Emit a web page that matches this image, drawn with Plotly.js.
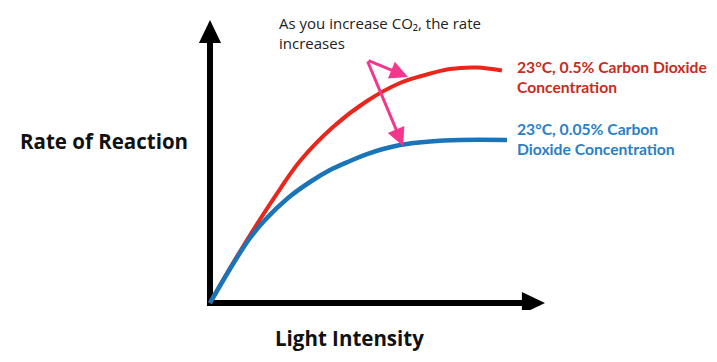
<!DOCTYPE html>
<html>
<head>
<meta charset="utf-8">
<script src="https://cdn.plot.ly/plotly-3.0.1.min.js"></script>
<style>html,body{margin:0;padding:0;background:#fff}</style>
</head>
<body>
<div id="chart" style="width:717px;height:362px"></div>
<script>
// Light intensity (arbitrary units) and rate of reaction (arbitrary units)
var lightHigh = [0, 6.87, 14.03, 20.90, 26.87, 36.72, 46.87, 56.72, 64.18, 71.64, 79.70, 87.16];
var rateHigh  = [0, 14.13, 27.92, 40.28, 50.18, 62.19, 71.38, 77.74, 80.57, 82.69, 83.22, 82.16];
var lightLow  = [0, 6.87, 11.94, 16.42, 23.28, 29.85, 35.82, 41.79, 46.87, 56.72, 65.67, 74.63, 88.66];
var rateLow   = [0, 13.78, 22.97, 29.33, 37.10, 42.76, 46.99, 50.18, 52.65, 55.83, 57.07, 57.60, 57.60];
var labelHigh = '23°C, 0.5% Carbon Dioxide<br>Concentration';
var labelLow  = '23°C, 0.05% Carbon<br>Dioxide Concentration';
var xTitle = 'Light Intensity';
var yTitle = 'Rate of Reaction';
var note = 'As you increase CO₂, the rate<br>increases';

var TITLEFONT = '"Open Sans", sans-serif';
var LABELFONT = 'Lato, "Open Sans", sans-serif';
var traces = [
  {x: lightHigh, y: rateHigh, mode: 'lines', line: {color: '#e8261c', width: 4, shape: 'spline'}, hoverinfo: 'skip', name: labelHigh},
  {x: lightLow, y: rateLow, mode: 'lines', line: {color: '#1a74b8', width: 4.5, shape: 'spline'}, hoverinfo: 'skip', name: labelLow}
];

var axStyle = {showgrid: false, zeroline: false, showticklabels: false, ticks: '', showline: false, fixedrange: true};
var layout = {
  width: 717, height: 362,
  margin: {l: 190, r: 167, t: 15, b: 52, pad: 0},
  paper_bgcolor: '#fff', plot_bgcolor: '#fff',
  showlegend: false,
  xaxis: Object.assign({range: [-5.97, 101.49]}, axStyle),
  yaxis: Object.assign({range: [-2.47, 101.77]}, axStyle),
  shapes: [
    {type: 'line', xref: 'x', yref: 'y', x0: 0, y0: -1.1, x1: 0, y1: 92.5, line: {color: '#000', width: 6}, layer: 'below'},
    {type: 'line', xref: 'x', yref: 'y', x0: -0.9, y0: 0, x1: 93.5, y1: 0, line: {color: '#000', width: 6}, layer: 'below'},
    {type: 'path', xref: 'x', yref: 'y', path: 'M -3.3,91.9 L 3.3,91.9 L 0,100 Z', fillcolor: '#000', line: {width: 0}, layer: 'below'},
    {type: 'path', xref: 'x', yref: 'y', path: 'M 93.1,-3.9 L 93.1,3.9 L 100,0 Z', fillcolor: '#000', line: {width: 0}, layer: 'below'}
  ],
  annotations: [
    {xref: 'paper', yref: 'paper', x: -0.2389, y: 0.5729, xanchor: 'center', yanchor: 'middle', text: yTitle, showarrow: false, font: {family: TITLEFONT, size: 20.5, color: '#111', weight: 'bold'}},
    {xref: 'paper', yref: 'paper', x: 0.4444, y: -0.0949, xanchor: 'center', yanchor: 'middle', text: xTitle, showarrow: false, font: {family: TITLEFONT, size: 20.5, color: '#111', weight: 'bold'}},
    {xref: 'paper', yref: 'paper', x: 0.2417, y: 1.0136, xanchor: 'left', yanchor: 'top', align: 'left', text: note, showarrow: false, font: {family: TITLEFONT, size: 15, color: '#222'}},
    {xref: 'paper', yref: 'paper', x: 0.9028, y: 0.8610, xanchor: 'left', yanchor: 'top', align: 'left', text: labelHigh, showarrow: false, font: {family: LABELFONT, size: 15.7, color: '#cc2a1a', weight: 'bold'}},
    {xref: 'paper', yref: 'paper', x: 0.9028, y: 0.6508, xanchor: 'left', yanchor: 'top', align: 'left', text: labelLow, showarrow: false, font: {family: LABELFONT, size: 15.7, color: '#2a80c6', weight: 'bold'}},
    {xref: 'paper', yref: 'paper', x: 0.6056, y: 0.7898, text: '', showarrow: true, axref: 'pixel', ayref: 'pixel', ax: -41, ay: -17, arrowhead: 2, arrowsize: 1.2, arrowwidth: 3, arrowcolor: '#f2378f'},
    {xref: 'paper', yref: 'paper', x: 0.5917, y: 0.5559, text: '', showarrow: true, axref: 'pixel', ayref: 'pixel', ax: -36, ay: -86, arrowhead: 2, arrowsize: 1.2, arrowwidth: 3, arrowcolor: '#f2378f'}
  ]
};
Plotly.newPlot('chart', traces, layout, {staticPlot: true, displayModeBar: false});
</script>
</body>
</html>
